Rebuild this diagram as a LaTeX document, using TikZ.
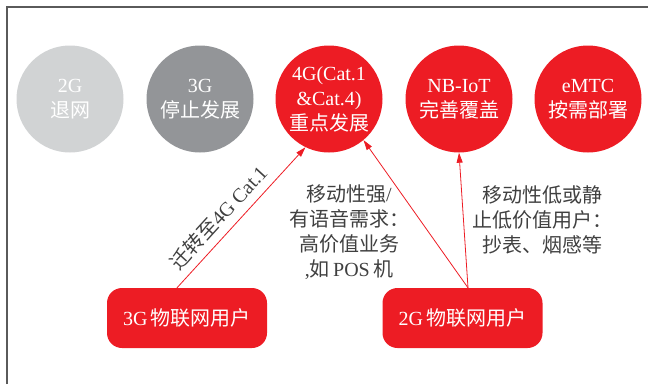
\documentclass[tikz,border=0pt]{standalone}
\usepackage{fontspec}
\setmainfont{Liberation Serif}
\newfontfamily\cjk{Noto Sans CJK SC}
\usetikzlibrary{arrows.meta}
\definecolor{cred}{HTML}{ED1C24}
\definecolor{clight}{HTML}{D1D3D4}
\definecolor{cdark}{HTML}{939598}
\definecolor{ctext}{HTML}{404040}
\definecolor{cframe}{HTML}{5A5A5A}
\begin{document}
\begin{tikzpicture}[x=1pt,y=-1pt,
  bubble/.style={circle,inner sep=0pt,minimum size=107pt,text=white,align=center,font=\fontsize{20}{25}\selectfont},
  userbox/.style={rounded corners=15pt,fill=cred,text=white,minimum width=160pt,minimum height=60pt,inner sep=0pt,font=\fontsize{20}{25}\selectfont},
  note/.style={text=ctext,align=center,font=\fontsize{20}{25}\selectfont},
  link/.style={draw=cred,line width=0.8pt,-{Triangle[length=10pt,width=6pt]}}
]
\useasboundingbox (0,0) rectangle (648,384);
\draw[cframe,line width=1.5pt] (7,384) -- (7,7) -- (648,7);

\node[bubble,fill=clight] (c1) at (70,99) {2G\\{\cjk 退网}};
\node[bubble,fill=cdark] (c2) at (200,99) {3G\\{\cjk 停止发展}};
\node[bubble,fill=cred] (c3) at (329,99) {4G(Cat.1\\\&Cat.4)\\{\cjk 重点发展}};
\node[bubble,fill=cred] (c4) at (459,99) {NB-IoT\\{\cjk 完善覆盖}};
\node[bubble,fill=cred] (c5) at (588,99) {eMTC\\{\cjk 按需部署}};

\node[userbox] (u3) at (187,318) {3G\,{\cjk 物联网用户}};
\node[userbox] (u2) at (462.5,318) {2G\,{\cjk 物联网用户}};

\node[note] (n1) at (349,232) {{\cjk 移动性强}/\\{\cjk 有语音需求：}\\{\cjk 高价值业务}\\,{\cjk 如}\,POS\,{\cjk 机}};
\node[note] (n2) at (542,220) {{\cjk 移动性低或静}\\{\cjk 止低价值用户：}\\{\cjk 抄表、烟感等}};

\draw[link] ([xshift=-10pt]u3.north) -- node[sloped,above=4pt,pos=0.42,note] (l1) {{\cjk 迁转至}4G Cat.1} (c3.244);
\draw[link] ([xshift=5.5pt]u2.north) -- (c3.310);
\draw[link] ([xshift=5.5pt]u2.north) -- (c4.south);
\end{tikzpicture}
\end{document}
